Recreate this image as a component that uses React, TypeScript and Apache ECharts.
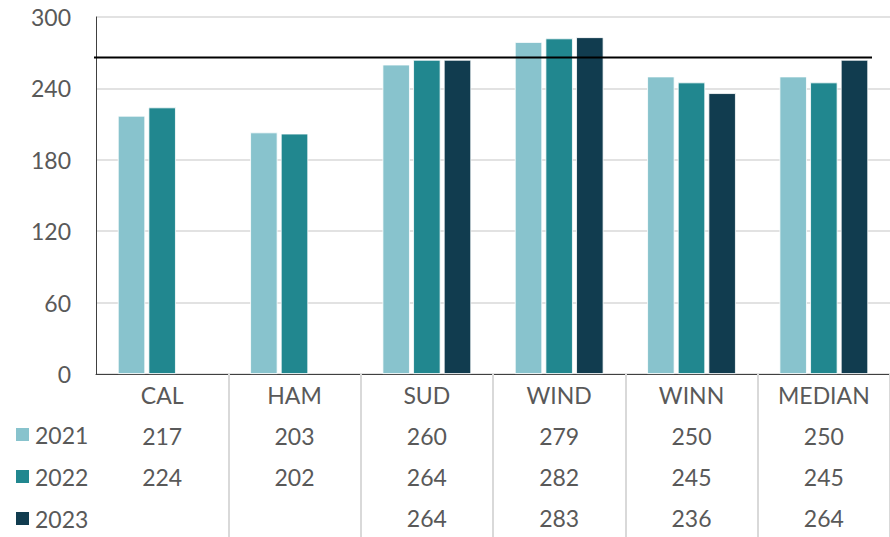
import React, { useEffect, useRef } from "react";
import * as echarts from "echarts";

const categories = ["CAL", "HAM", "SUD", "WIND", "WINN", "MEDIAN"];
const seriesNames = ["2021", "2022", "2023"];
const values2021 = [217, 203, 260, 279, 250, 250];
const values2022 = [224, 202, 264, 282, 245, 245];
const values2023: (number | null)[] = [null, null, 264, 283, 236, 264];
const targetValue = 266;
const yTicks = { min: 0, max: 300, interval: 60 };
const colors = ["#88C3CD", "#21878F", "#113C4F"];

const FONT = "Lato";
const TEXT = "#595959";

export default function App() {
  const ref = useRef<HTMLDivElement>(null);
  useEffect(() => {
    if (!ref.current) return;
    const chart = echarts.init(ref.current, undefined, { renderer: "svg" });
    const all = [values2021, values2022, values2023];
    const fmt = (v: number | null) => (v == null ? " " : String(v));
    chart.setOption({
      animation: false,
      textStyle: { fontFamily: FONT },
      legend: {
        orient: "vertical",
        left: 14,
        top: 423,
        height: 130,
        itemWidth: 15,
        itemHeight: 15,
        itemGap: 19,
        padding: 0,
        icon: "rect",
        selectedMode: false,
        textStyle: { fontFamily: FONT, fontSize: 23, color: TEXT, lineHeight: 15 },
        data: seriesNames,
      },
      grid: [
        { left: 96, right: -5, top: 17, bottom: 163 },
        { left: 94, right: 18, top: 17, bottom: 163 },
      ],
      xAxis: [
        {
          type: "category",
          data: categories,
          gridIndex: 0,
          axisLine: { show: true, lineStyle: { color: "#404040", width: 1 } },
          axisTick: {
            show: true,
            interval: (i: number) => i > 0,
            length: 170,
            lineStyle: { color: "#D9D9D9", width: 2 },
          },
          axisLabel: {
            interval: 0,
            margin: 0,
            formatter: (val: string, idx: number) => {
              const rows = all.map((arr) => `{v|${fmt(arr[idx])}}`);
              return [`{c|${val}}`, ...rows].join("\n");
            },
            rich: {
              c: { fontFamily: FONT, fontSize: 23, color: TEXT, lineHeight: 41 },
              v: { fontFamily: FONT, fontSize: 23, color: TEXT, lineHeight: 41 },
            },
          },
        },
        {
          type: "value",
          gridIndex: 1,
          min: 0,
          max: 1,
          show: false,
        },
      ],
      yAxis: [
        {
          type: "value",
          gridIndex: 0,
          min: yTicks.min,
          max: yTicks.max,
          interval: yTicks.interval,
          axisLine: { show: true, lineStyle: { color: "#404040", width: 1 } },
          axisTick: { show: false },
          axisLabel: { fontFamily: FONT, fontSize: 23, color: TEXT, margin: 25 },
          splitLine: { show: true, lineStyle: { color: "#D9D9D9", width: 1.5 } },
        },
        {
          type: "value",
          gridIndex: 1,
          min: yTicks.min,
          max: yTicks.max,
          show: false,
        },
      ],
      series: [
        ...all.map((arr, i) => ({
          name: seriesNames[i],
          type: "bar",
          xAxisIndex: 0,
          yAxisIndex: 0,
          data: arr,
          barCategoryGap: "33%",
          barGap: "12%",
          itemStyle: { color: colors[i], borderColor: "#FFFFFF", borderWidth: 0.8 },
        })),
        {
          name: "target",
          type: "line",
          xAxisIndex: 1,
          yAxisIndex: 1,
          data: [
            [0, targetValue],
            [1, targetValue],
          ],
          symbol: "none",
          lineStyle: { color: "#000000", width: 2 },
          z: 5,
        },
      ],
    });
    return () => chart.dispose();
  }, []);
  return <div ref={ref} style={{ width: 890, height: 537, position: "absolute", left: 0, top: 0 }} />;
}
